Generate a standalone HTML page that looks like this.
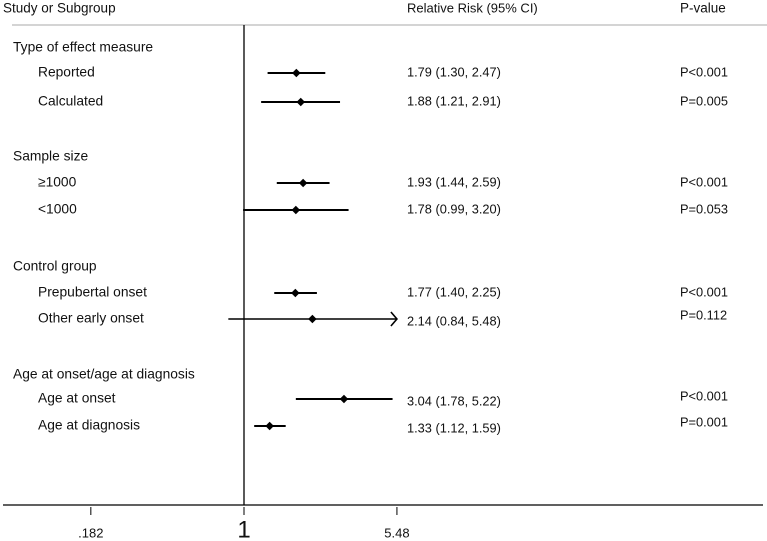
<!DOCTYPE html>
<html><head><meta charset="utf-8"><style>
body{margin:0;background:#fff;}
svg{display:block;font-family:"Liberation Sans",sans-serif;}
</style></head><body>
<svg id="c" width="767" height="541"></svg>
<script>
const labels=["Reported","Calculated","≥1000","<1000","Prepubertal onset","Other early  onset","Age at onset","Age at diagnosis"];
const rr=[1.79,1.88,1.93,1.78,1.77,2.14,3.04,1.33];
const lo=[1.30,1.21,1.44,0.99,1.40,0.84,1.78,1.12];
const hi=[2.47,2.91,2.59,3.20,2.25,5.48,5.22,1.59];
const pvals=["P<0.001","P=0.005","P<0.001","P=0.053","P<0.001","P=0.112","P<0.001","P=0.001"];
const groups=["Type of effect measure","Sample size","Control group","Age at onset/age at diagnosis"];
const ticks=[0.182,1,5.48];
const tickLabels=[".182","1","5.48"];
const rowY=[73,102,183,210,293,319,399,426];
const groupY=[48,157,267,375];
const pY=[73,102,183,210,293,316,397,423];
const NS="http://www.w3.org/2000/svg";
const svg=document.getElementById('c');
const x=v=>244+89.9*Math.log(v);
const CAP=5.48;
function mk(t,a,p){const e=document.createElementNS(NS,t);for(const k in a)e.setAttribute(k,a[k]);(p||svg).appendChild(e);return e;}
function txt(s,xx,yy,size,anchor){const e=mk('text',{x:xx,y:yy,'font-size':size,fill:'#111','text-anchor':anchor||'start','dominant-baseline':'middle'});e.textContent=s;return e;}
let e;
e=txt("Study or Subgroup",3,9,13.5);


e=txt("Relative Risk (95% CI)",407,9,13);


e=txt("P-value",680,9,13.5);


e=mk('line',{x1:12,x2:767,y1:25,y2:25,stroke:'#aaa','stroke-width':1});


e=mk('line',{x1:x(1),x2:x(1),y1:25,y2:505,stroke:'#000','stroke-width':1.3});


e=mk('line',{x1:3,x2:763,y1:505,y2:505,stroke:'#000','stroke-width':1.3});


ticks.forEach((t,i)=>{
  const tk=mk('line',{x1:x(t),x2:x(t),y1:507,y2:515,stroke:'#000','stroke-width':1});
  
  
  const l=txt(tickLabels[i],x(t),t===1?531:534,t===1?24:13,'middle');
  
  
});
groups.forEach((g,i)=>{
  const l=txt(g,13,groupY[i],13.8);
  
  
});
labels.forEach((s,i)=>{
  const y=rowY[i];
  const l=txt(s,38,y,13.8);
  
  
  const h=hi[i];
  const ci=mk('line',{x1:x(lo[i]),x2:x(Math.min(h,CAP)),y1:y,y2:y,stroke:'#000','stroke-width':h>=CAP?1.5:2});
  
  
  if(h>=CAP){
    const a=mk('polyline',{points:`${x(CAP)-6},${y-7} ${x(CAP)},${y} ${x(CAP)-6},${y+7}`,fill:'none',stroke:'#000','stroke-width':1.6});
    
    
  }
  const d=mk('rect',{x:x(rr[i])-3,y:y-3,width:6,height:6,fill:'#000',transform:`rotate(45 ${x(rr[i])} ${y})`});
  
  
  const r=txt(`${rr[i].toFixed(2)} (${lo[i].toFixed(2)}, ${hi[i].toFixed(2)})`,407,y+(i>=5?3:0),12.8);
  
  
  const p=txt(pvals[i],680,pY[i],12.8);
  
  
});
</script>
</body></html>
